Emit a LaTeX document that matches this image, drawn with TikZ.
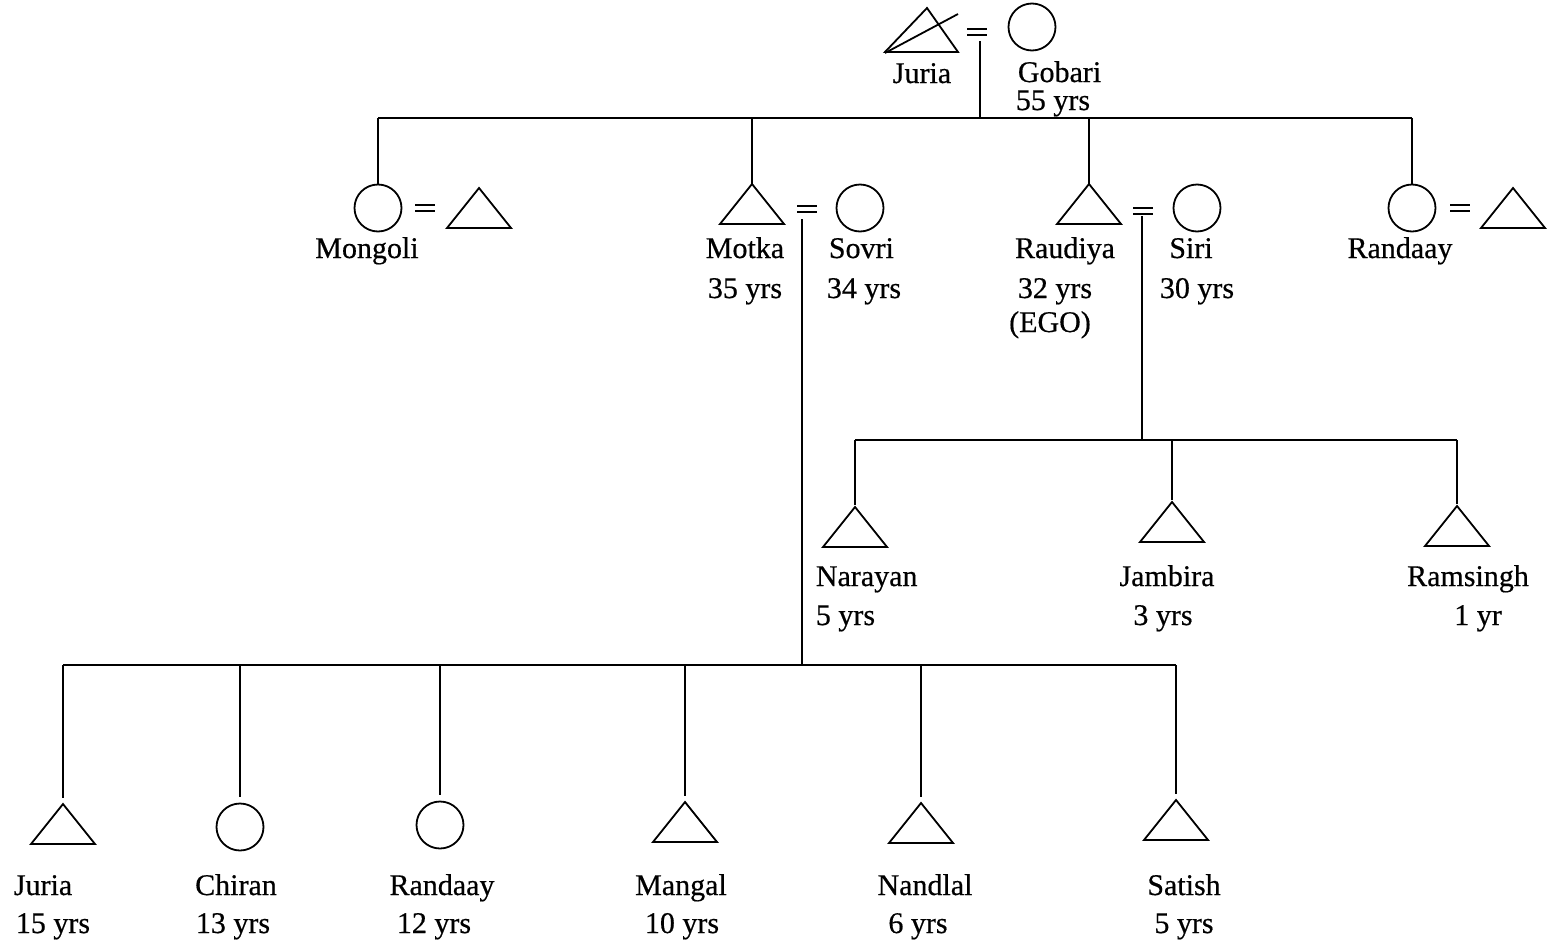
\documentclass[tikz,border=0pt]{standalone}
\usepackage{fontspec}
\setmainfont{Liberation Serif}[FakeBold=0.5]
\begin{document}
\begin{tikzpicture}[x=1pt,y=-1pt,line width=1.8pt,line join=miter,
  female/.style={draw,circle,minimum size=47pt,inner sep=0pt},
  lbl/.style={inner sep=0pt,anchor=base,font=\fontsize{30}{30}\selectfont},
  lblw/.style={lbl,anchor=base west},
  gap/.style={shorten >=6pt},
  male/.pic={\draw (0,0) -- (-32,40) -- (32,40) -- cycle;
             \coordinate (-apex) at (0,0);},
  deadmale/.pic={\draw (0,0) -- (-42,44) -- (31,44) -- cycle;
                 \draw (-42,45) -- (31,6);
                 \coordinate (-apex) at (0,0);},
  marry/.pic={\draw[line width=1.1pt] (-10,-3) -- (10,-3) (-10,3) -- (10,3);}]
\useasboundingbox (0,0) rectangle (1550,945);

% ---- founding couple ----
\pic (juriaA) at (927,8) {deadmale};
\pic at (977,32) {marry};
\node[female] (gobari) at (1032,27) {};
\coordinate (m0) at (980,41);
\coordinate (bar1) at (980,118);
\node[lbl] (tjuriaA) at (922,83) {Juria};
\node[lblw] (tgobari) at (1017,82) {Gobari};
\node[lblw] (agobari) at (1015,110) {55 yrs};
\draw (m0) -- (bar1);

% ---- second generation ----
\node[female] (mongoli) at (378,208) {};
\pic at (425,208) {marry};
\pic (mhus) at (479,188) {male};
\node[lbl] (tmongoli) at (367,258) {Mongoli};

\pic (motka) at (752,184) {male};
\pic at (807,209) {marry};
\node[female] (sovri) at (860,208) {};
\coordinate (m1) at (802,219);
\node[lbl] (tmotka) at (745,258) {Motka};
\node[lbl] (amotka) at (745,298) {35 yrs};
\node[lblw] (tsovri) at (828,258) {Sovri};
\node[lblw] (asovri) at (826,298) {34 yrs};

\pic (raudiya) at (1089,184) {male};
\pic at (1143,211) {marry};
\node[female] (siri) at (1197,208) {};
\coordinate (m2) at (1142,216);
\node[lbl] (traudiya) at (1065,258) {Raudiya};
\node[lbl] (araudiya) at (1055,298) {32 yrs};
\node[lbl] (ego) at (1050,332) {(EGO)};
\node[lbl] (tsiri) at (1191,258) {Siri};
\node[lbl] (asiri) at (1197,298) {30 yrs};

\node[female] (randaayA) at (1412,208) {};
\pic at (1460,208) {marry};
\pic (rhus) at (1513,188) {male};
\node[lbl] (trandaayA) at (1400,258) {Randaay};

\draw (mongoli.north |- bar1) -- (randaayA.north |- bar1);
\draw (mongoli.north |- bar1) -- (mongoli.north);
\draw (motka-apex |- bar1) -- (motka-apex);
\draw (raudiya-apex |- bar1) -- (raudiya-apex);
\draw (randaayA.north |- bar1) -- (randaayA.north);

% ---- children of Raudiya and Siri ----
\coordinate (bar2) at (1142,440);
\draw (m2) -- (bar2);
\pic (narayan) at (855,507) {male};
\pic (jambira) at (1172,502) {male};
\pic (ramsingh) at (1457,506) {male};
\draw (narayan-apex |- bar2) -- (ramsingh-apex |- bar2);
\foreach \c in {narayan,jambira,ramsingh}
  \draw[shorten >=2pt] (\c-apex |- bar2) -- (\c-apex);
\node[lblw] (tnarayan) at (815,586) {Narayan};
\node[lblw] (anarayan) at (815,625) {5 yrs};
\node[lbl] (tjambira) at (1167,586) {Jambira};
\node[lbl] (ajambira) at (1163,625) {3 yrs};
\node[lbl] (tramsingh) at (1468,586) {Ramsingh};
\node[lbl] (aramsingh) at (1478,625) {1 yr};

% ---- children of Motka and Sovri ----
\coordinate (bar3) at (802,665);
\draw (m1) -- (bar3);
\pic (juriaB) at (63,804) {male};
\node[female] (chiran) at (240,827) {};
\node[female] (randaayB) at (440,825) {};
\pic (mangal) at (685,802) {male};
\pic (nandlal) at (921,803) {male};
\pic (satish) at (1176,800) {male};
\draw (juriaB-apex |- bar3) -- (satish-apex |- bar3);
\foreach \c in {juriaB,mangal,nandlal,satish}
  \draw[gap] (\c-apex |- bar3) -- (\c-apex);
\foreach \c in {chiran,randaayB}
  \draw[gap] (\c.north |- bar3) -- (\c.north);
\node[lblw] (tjuriaB) at (13,895) {Juria};
\node[lblw] (ajuriaB) at (15,933) {15 yrs};
\node[lbl] (tchiran) at (236,895) {Chiran};
\node[lbl] (achiran) at (233,933) {13 yrs};
\node[lbl] (trandaayB) at (442,895) {Randaay};
\node[lbl] (arandaayB) at (434,933) {12 yrs};
\node[lbl] (tmangal) at (681,895) {Mangal};
\node[lbl] (amangal) at (682,933) {10 yrs};
\node[lbl] (tnandlal) at (925,895) {Nandlal};
\node[lbl] (anandlal) at (918,933) {6 yrs};
\node[lbl] (tsatish) at (1184,895) {Satish};
\node[lbl] (asatish) at (1184,933) {5 yrs};
\end{tikzpicture}
\end{document}
